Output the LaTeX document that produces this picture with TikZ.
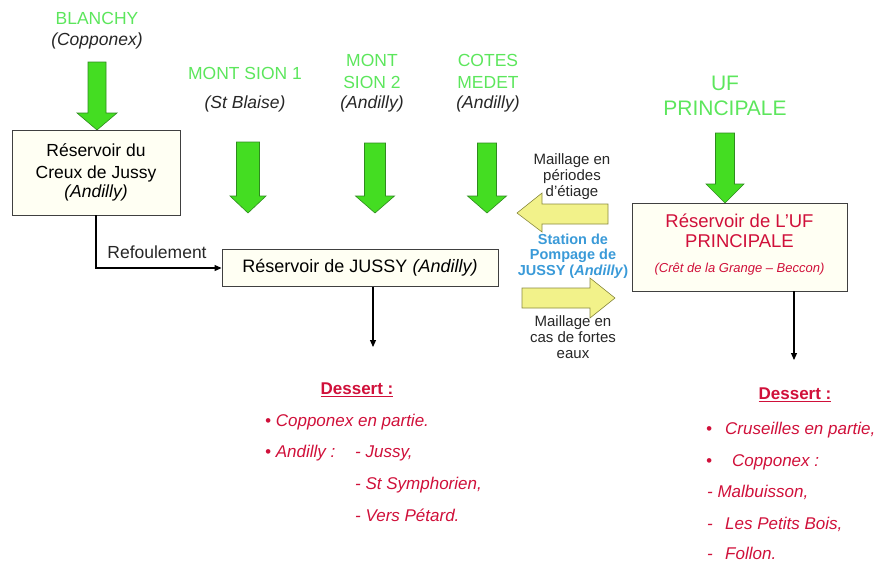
\documentclass[tikz,border=0pt]{standalone}
\usepackage{fontspec}
\setmainfont{Liberation Sans}
\usetikzlibrary{arrows.meta}
\definecolor{gtxt}{HTML}{5CE65C}
\definecolor{gfill}{HTML}{44DD22}
\definecolor{gdraw}{HTML}{2E8B1E}
\definecolor{yfill}{HTML}{F2F28A}
\definecolor{ydraw}{HTML}{8A8A40}
\definecolor{rtxt}{HTML}{D0103A}
\definecolor{btxt}{HTML}{3A9AD8}
\definecolor{bfill}{HTML}{FFFFF3}
\newcommand\fs[1]{\fontsize{#1}{#1}\selectfont}
\newcommand\garrow[7]{% name cx top headbase tip shafthalf headhalf
  \path[fill=gfill,draw=gdraw,line width=0.6pt] (#2-#6,#3) -- (#2+#6,#3) -- (#2+#6,#4) -- (#2+#7,#4) -- (#2,#5) -- (#2-#7,#4) -- (#2-#6,#4) -- cycle;
  \coordinate (#1) at (#2,#5);}
\begin{document}
\begin{tikzpicture}[x=1pt,y=-1pt,
  box/.style={draw=black!75,line width=0.9pt,fill=bfill,inner sep=0pt},
  gsrc/.style={text=gtxt,align=center,font=\fs{17.5}},
  conn/.style={line width=1.1pt,-{Triangle[length=7pt,width=6pt]}},
  note/.style={align=center,font=\fs{15},text=black!85},
  rlist/.style={anchor=west,text=rtxt,font=\fs{17}\itshape,inner sep=0pt,text height=12pt,text depth=4pt}]
\useasboundingbox (0,0) rectangle (883,566);
% sources
\node[gsrc] (blanchy) at (97,18) {BLANCHY};
\node[gsrc,font=\fs{17.5}\itshape,text=black!85] (blanchyc) at (97,41) {(Copponex)};
\node[gsrc] (ms1) at (245,73) {MONT SION 1};
\node[gsrc,font=\fs{17.5}\itshape,text=black!85] (ms1c) at (245,104) {(St Blaise)};
\node[gsrc] (ms2a) at (372,60) {MONT};
\node[gsrc] (ms2b) at (372,82) {SION 2};
\node[gsrc,font=\fs{17.5}\itshape,text=black!85] (ms2c) at (372,104) {(Andilly)};
\node[gsrc] (cma) at (488,60) {COTES};
\node[gsrc] (cmb) at (488,82) {MEDET};
\node[gsrc,font=\fs{17.5}\itshape,text=black!85] (cmc) at (488,104) {(Andilly)};
\node[gsrc,font=\fs{21}] (ufa) at (725,83) {UF};
\node[gsrc,font=\fs{21}] (ufb) at (725,108) {PRINCIPALE};
% green arrows
\garrow{ga1}{97}{62}{113}{130}{9}{20}
\garrow{ga2}{248}{142}{196}{213}{11.5}{18}
\garrow{ga3}{375}{143}{196}{213}{10.5}{19.5}
\garrow{ga4}{487}{143}{196}{213}{9.5}{19.5}
\garrow{ga5}{725}{133}{184}{203}{9.5}{19}
% yellow arrows
\path[fill=yfill,draw=ydraw,line width=0.6pt] (608,204) -- (608,224) -- (542,224) -- (542,232) -- (517,213) -- (542,193) -- (542,204) -- cycle;
\path[fill=yfill,draw=ydraw,line width=0.6pt] (522,288) -- (590,288) -- (590,278) -- (615,298) -- (590,318) -- (590,308) -- (522,308) -- cycle;
% boxes
\node[box,minimum width=168pt,minimum height=85pt,align=center,font=\fs{17.5}] (creux) at (96,172.5) {R\'eservoir du\\[4pt]Creux de Jussy\\[2pt]\textit{(Andilly)}};
\node[box,minimum width=276pt,minimum height=37pt,font=\fs{18}] (jussy) at (360,268) {R\'eservoir de JUSSY \textit{(Andilly)}};
\node[box,minimum width=215pt,minimum height=88pt] (uf) at (739.5,247) {};
\node[text=rtxt,align=center,font=\fs{18.5}] (uft) at (739.5,231) {R\'eservoir de L'UF\\[1pt]PRINCIPALE};
\node[text=rtxt,font=\fs{13}\itshape] (ufs) at (739.5,269) {(Cr\^et de la Grange -- Beccon)};
% connectors
\draw[conn] (creux.south) |- (jussy.west);
\node[font=\fs{17.5},text=black!85] (refoul) at (157,252) {Refoulement};
\coordinate (jend) at (373,347);
\draw[conn] (jussy.south -| jend) -- (jend);
\coordinate (uend) at (794,360);
\draw[conn] (uf.south -| uend) -- (uend);
% notes
\node[note] (m1) at (572,177) {Maillage en\\[1pt]p\'eriodes\\[1pt]d'\'etiage};
\node[note,text=btxt,font=\fs{14.5}\bfseries] (st) at (573,256) {Station de\\[1pt]Pompage de\\[1pt]JUSSY (\textit{Andilly})};
\node[note] (m2) at (573,337) {Maillage en\\[1pt]cas de fortes\\[1pt]eaux};
% desserts
\node[text=rtxt,font=\fs{17}\bfseries] (d1) at (357,390) {\underline{Dessert :}};
\node[rlist] (d1a) at (265,422) {\textbullet\ Copponex en partie.};
\node[rlist] (d1b) at (265,453) {\textbullet\ Andilly :};
\node[rlist] (d1c) at (355,453) {- Jussy,};
\node[rlist] (d1d) at (355,485) {- St Symphorien,};
\node[rlist] (d1e) at (355,517) {- Vers P\'etard.};
\node[text=rtxt,font=\fs{17}\bfseries] (d2) at (795,395) {\underline{Dessert :}};
\node[rlist] (d2a) at (706,430) {\textbullet};
\node[rlist] (d2at) at (725,430) {Cruseilles en partie,};
\node[rlist] (d2b) at (706,462) {\textbullet};
\node[rlist] (d2bt) at (732,462) {Copponex :};
\node[rlist] (d2c) at (707,493) {- Malbuisson,};
\node[rlist] (d2d) at (707,525) {-};
\node[rlist] (d2dt) at (725,525) {Les Petits Bois,};
\node[rlist] (d2e) at (707,555) {-};
\node[rlist] (d2et) at (725,555) {Follon.};
\end{tikzpicture}
\end{document}
